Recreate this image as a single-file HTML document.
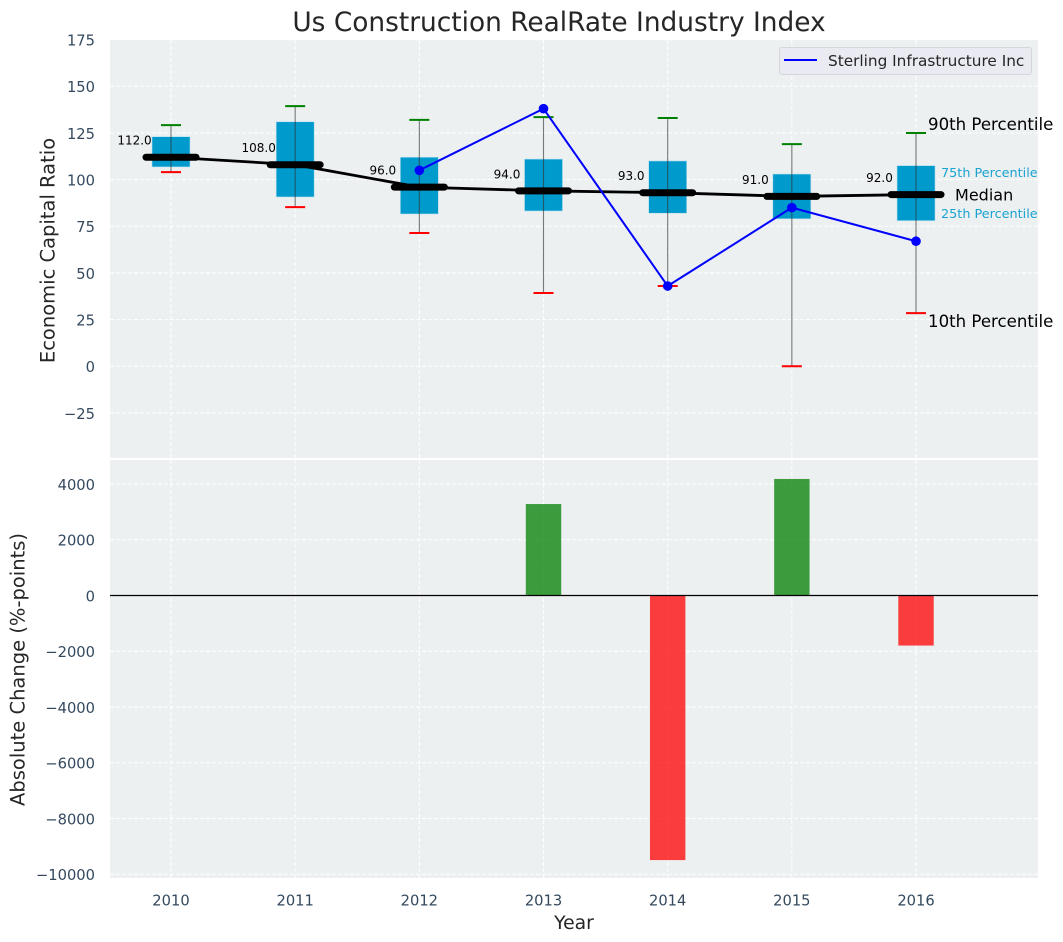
<!DOCTYPE html>
<html lang="en">
<head>
<meta charset="utf-8">
<title>Us Construction RealRate Industry Index</title>
<style>
html,body{margin:0;padding:0;background:#fff;width:1063px;height:942px;overflow:hidden}
svg{display:block;font-family:"DejaVu Sans","Liberation Sans",sans-serif}
</style>
</head>
<body>
<svg id="chart" xmlns="http://www.w3.org/2000/svg" width="1063" height="942" viewBox="0 0 1063 942">
<text x="559" y="31" text-anchor="middle" font-size="26.4" fill="#262626">Us Construction RealRate Industry Index</text>
<text transform="translate(54.5 250.5) rotate(-90)" text-anchor="middle" font-size="19.5" fill="#262626">Economic Capital Ratio</text>
<text transform="translate(24.5 669.5) rotate(-90)" text-anchor="middle" font-size="19.5" fill="#262626">Absolute Change (%-points)</text>
<text x="574" y="929" text-anchor="middle" font-size="18.8" fill="#262626">Year</text>
</svg>
<script>
const years = [2010, 2011, 2012, 2013, 2014, 2015, 2016];
const medians = [112, 108, 96, 94, 93, 91, 92];
const p75 = [123, 131, 112, 111, 110, 103, 107.5];
const p25 = [106.8, 90.7, 81.6, 83.2, 82, 79, 78];
const p90 = [129.2, 139.4, 132, 133.5, 133, 119, 125];
const p10 = [104, 85.3, 71.4, 39.3, 43, 0, 28.5];
const companyYears = [2012, 2013, 2014, 2015, 2016];
const companyValues = [105, 138, 43, 85, 67];
const changeYears = [2013, 2014, 2015, 2016];
const changeValues = [3280, -9490, 4180, -1795];
const ratioTicks = [175, 150, 125, 100, 75, 50, 25, 0, -25];
const changeTicks = [4000, 2000, 0, -2000, -4000, -6000, -8000, -10000];

const svg = document.getElementById('chart');
const NS = 'http://www.w3.org/2000/svg';
const left = 110, right = 1038;
const topA = 40, topB = 458, botA = 460, botB = 878;

function xPos(year) { return 171 + (year - 2010) * 124.17; }
function yTop(v) { return 366.3 - v * 1.8667; }
function yBot(v) { return 595.5 - v * 0.02788; }

function make(tag, attrs, text) {
  const el = document.createElementNS(NS, tag);
  for (const k in attrs) el.setAttribute(k, attrs[k]);
  if (text !== undefined) el.textContent = text;
  svg.appendChild(el);
  return el;
}
function fmt(v) { return String(v).replace('-', '\u2212'); }

let el;
el = make('rect', {x: left, y: topA, width: right - left, height: topB - topA, fill: '#ecf0f1'});


el = make('rect', {x: left, y: botA, width: right - left, height: botB - botA, fill: '#ecf0f1'});



const gridStyle = {stroke: '#ffffff', 'stroke-width': 1, 'stroke-dasharray': '4 2', 'stroke-opacity': 0.95};

ratioTicks.forEach(function (t) {
  el = make('line', Object.assign({x1: left, x2: right, y1: yTop(t), y2: yTop(t)}, gridStyle));
  
  
  el = make('text', {x: 95, y: yTop(t) + 5.8, 'text-anchor': 'end', 'font-size': 14.7, fill: '#34495e'}, fmt(t));
  
  
});
changeTicks.forEach(function (t) {
  el = make('line', Object.assign({x1: left, x2: right, y1: yBot(t), y2: yBot(t)}, gridStyle));
  
  
  el = make('text', {x: 95, y: yBot(t) + 5.8, 'text-anchor': 'end', 'font-size': 14.7, fill: '#34495e'}, fmt(t));
  
  
});
years.forEach(function (yr) {
  el = make('line', Object.assign({x1: xPos(yr), x2: xPos(yr), y1: topA, y2: topB}, gridStyle));
  
  
  el = make('line', Object.assign({x1: xPos(yr), x2: xPos(yr), y1: botA, y2: botB}, gridStyle));
  
  
  el = make('text', {x: xPos(yr), y: 905.5, 'text-anchor': 'middle', 'font-size': 14.7, fill: '#34495e'}, yr);
  
  
});

// percentile boxes
years.forEach(function (yr, i) {
  const cx = xPos(yr);
  el = make('rect', {x: cx - 19, y: yTop(p75[i]), width: 38, height: yTop(p25[i]) - yTop(p75[i]), fill: '#009acd', stroke: '#b5dfee', 'stroke-width': 0.6});
  
  
});
// whiskers and caps
years.forEach(function (yr, i) {
  const cx = xPos(yr);
  el = make('line', {x1: cx, x2: cx, y1: yTop(p90[i]), y2: yTop(p10[i]), stroke: '#333333', 'stroke-width': 1.1, 'stroke-opacity': 0.65});
  
  
  el = make('line', {x1: cx - 10, x2: cx + 10, y1: yTop(p90[i]), y2: yTop(p90[i]), stroke: '#008000', 'stroke-width': 2});
  
  
  el = make('line', {x1: cx - 10, x2: cx + 10, y1: yTop(p10[i]), y2: yTop(p10[i]), stroke: '#ff0000', 'stroke-width': 2});
  
  
});
// median trend
el = make('polyline', {points: years.map(function (yr, i) { return xPos(yr) + ',' + yTop(medians[i]); }).join(' '), fill: 'none', stroke: '#000', 'stroke-width': 2.8});


years.forEach(function (yr, i) {
  const cx = xPos(yr);
  el = make('line', {x1: cx - 25, x2: cx + 25, y1: yTop(medians[i]), y2: yTop(medians[i]), stroke: '#000', 'stroke-width': 7, 'stroke-linecap': 'round'});
  
  
  el = make('text', {x: cx - 36.5, y: yTop(medians[i]) - 12.5, 'text-anchor': 'middle', 'font-size': 12, fill: '#000'}, medians[i].toFixed(1));
  
  
});
// company series
el = make('polyline', {points: companyYears.map(function (yr, i) { return xPos(yr) + ',' + yTop(companyValues[i]); }).join(' '), fill: 'none', stroke: '#0000ff', 'stroke-width': 2});


companyYears.forEach(function (yr, i) {
  el = make('circle', {cx: xPos(yr), cy: yTop(companyValues[i]), r: 4.8, fill: '#0000ff'});
  
  
});

// change bars
changeYears.forEach(function (yr, i) {
  const v = changeValues[i];
  const cx = xPos(yr);
  const y0 = yBot(Math.max(v, 0));
  const y1 = yBot(Math.min(v, 0));
  el = make('rect', {x: cx - 17.7, y: y0, width: 35.4, height: y1 - y0, fill: v >= 0 ? '#008000' : '#ff0000', 'fill-opacity': 0.75});
  
  
});
el = make('line', {x1: left, x2: right, y1: yBot(0), y2: yBot(0), stroke: '#000', 'stroke-width': 1.3});



// percentile guide annotations (anchored to the last year)
const lastX = xPos(years[years.length - 1]);
const lastI = years.length - 1;
el = make('text', {x: lastX + 12, y: yTop(p90[lastI]) - 3, 'font-size': 16.6, fill: '#000'}, '90th Percentile');


el = make('text', {x: lastX + 12, y: yTop(p10[lastI]) + 14, 'font-size': 16.6, fill: '#000'}, '10th Percentile');


el = make('text', {x: lastX + 39, y: yTop(medians[lastI]) + 5.8, 'font-size': 16, fill: '#000'}, 'Median');


el = make('text', {x: lastX + 25, y: yTop(p75[lastI]) + 11.5, 'font-size': 12.8, fill: '#1aa3d1'}, '75th Percentile');


el = make('text', {x: lastX + 25, y: yTop(p25[lastI]) - 2.5, 'font-size': 12.8, fill: '#1aa3d1'}, '25th Percentile');



// legend
el = make('rect', {x: 779.5, y: 47.5, width: 252, height: 27, rx: 2.5, fill: '#eaeaf2', stroke: '#d5d5dc', 'stroke-width': 1});


el = make('line', {x1: 784, x2: 817, y1: 60, y2: 60, stroke: '#0000ff', 'stroke-width': 2});


el = make('text', {x: 828, y: 66, 'font-size': 15.3, fill: '#262626'}, 'Sterling Infrastructure Inc');


</script>
</body>
</html>
